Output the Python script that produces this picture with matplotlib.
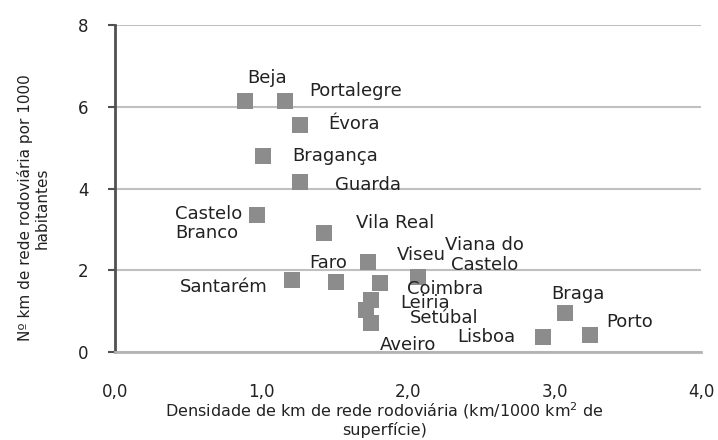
import matplotlib
matplotlib.use("Agg")
import matplotlib.pyplot as plt

# Distritos: densidade (km/1000 km2) vs km por 1000 habitantes
distritos = ["Beja", "Portalegre", "Évora", "Bragança", "Guarda", "Castelo\nBranco",
             "Vila Real", "Faro", "Viseu", "Viana do\nCastelo", "Santarém", "Coimbra",
             "Leiria", "Setúbal", "Aveiro", "Lisboa", "Braga", "Porto"]
densidade = [0.89, 1.16, 1.26, 1.01, 1.26, 0.97, 1.43, 1.51, 1.73, 2.07, 1.21, 1.81,
             1.75, 1.71, 1.75, 2.92, 3.07, 3.24]
km_hab = [6.15, 6.15, 5.56, 4.80, 4.17, 3.34, 2.90, 1.71, 2.20, 1.83, 1.76, 1.68,
          1.27, 1.02, 0.71, 0.37, 0.95, 0.41]

# posicao dos rotulos (pixels relativos ao ponto)
offsets = [(22, 23), (71, 10), (54, 1), (72, 0), (68, -3), (-15, -8), (71, 10),
           (-8, 19), (53, 7), (66, 22), (-69, -7), (65, -6), (54, -3), (79, -8),
           (37, -22), (-56, 0), (13, 19), (40, 13)]

plt.rcParams['font.family'] = ['DejaVu Sans']

fig = plt.figure(figsize=(7.18, 4.40), dpi=100)
ax = fig.add_axes([115/718, 1 - 352/440, (701-115)/718, (352-25)/440])

ax.scatter(densidade, km_hab, marker='s', s=130, color='#8c8c8c', linewidths=0, zorder=3)

for nome, x, y, (dx, dy) in zip(distritos, densidade, km_hab, offsets):
    ha = 'right' if nome.startswith("Castelo") else 'center'
    ax.annotate(nome, (x, y), xytext=(dx, dy), textcoords='offset pixels',
                ha=ha, va='center', fontsize=13, color='#222222',
                multialignment='left' if ha == 'right' else 'center', linespacing=1.1)

ax.set_xlim(0, 4)
ax.set_ylim(0, 8)
ax.set_xticks([0, 1, 2, 3, 4])
ax.set_xticklabels(["0,0", "1,0", "2,0", "3,0", "4,0"])
ax.set_yticks([0, 2, 4, 6, 8])
ax.tick_params(axis='x', length=0, pad=22, labelsize=12, labelcolor='#222222')
ax.tick_params(axis='y', length=5, width=1.5, color='#505050', pad=14, labelsize=12,
               labelcolor='#222222')

ax.grid(axis='y', color='#c0c0c0', linewidth=1.5)
ax.set_axisbelow(True)
for s in ['top', 'right']:
    ax.spines[s].set_visible(False)
ax.spines['left'].set_color('#505050')
ax.spines['left'].set_linewidth(2)
ax.spines['bottom'].set_color('#b4b4b4')
ax.spines['bottom'].set_linewidth(2)

ax.set_xlabel("Densidade de km de rede rodoviária (km/1000 km$^2$ de\nsuperfície)",
              fontsize=11.5, color='#222222', linespacing=1.05)
ax.set_ylabel("Nº km de rede rodoviária por 1000\nhabitantes", fontsize=11,
              color='#222222', linespacing=1.2)
ax.xaxis.set_label_coords(0.46, -0.148)
ax.yaxis.set_label_coords(-0.111, 0.44)

fig.savefig("out.png", dpi=100)
